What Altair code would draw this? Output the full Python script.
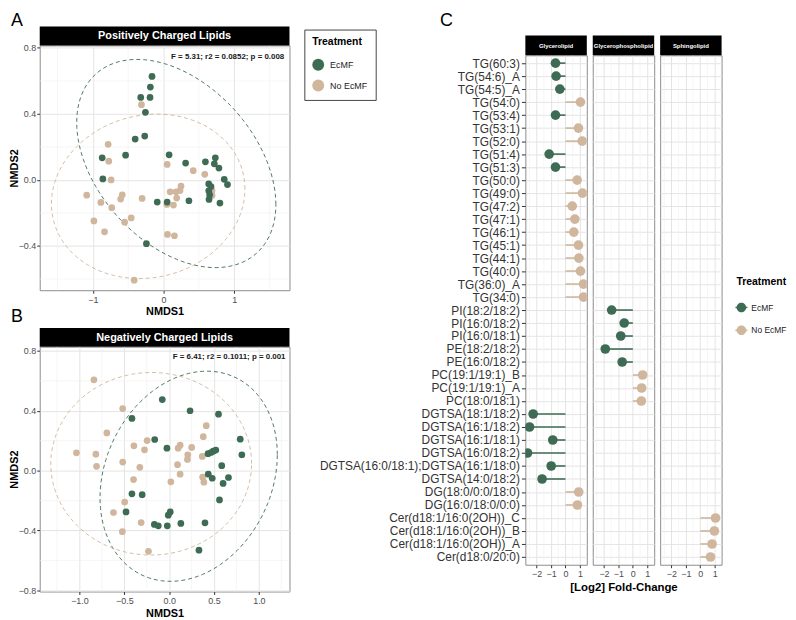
import numpy as np
import pandas as pd
import altair as alt

GREEN = "#3e6b54"
TAN = "#cfb69c"
FONT = "Liberation Sans"
TREAT = ["EcMF", "No EcMF"]
CSCALE = alt.Scale(domain=TREAT, range=[GREEN, TAN])

# ---------------- Panel A : positively charged lipids (NMDS) ----------------
a_ecmf_x = [-0.163, -0.186, -0.191, -0.322, -0.256, -0.266, -0.401, -0.867, -0.536, -0.858,
            0.079, 0.312, 0.592, 0.732, 0.718, 0.783, 0.858, 0.904, 0.639, 0.671, 0.639,
            0.652, 0.643, 0.797, 0.359, 0.051, -0.089, -0.242]
a_ecmf_y = [0.627, 0.563, 0.500, 0.500, 0.410, 0.266, 0.248, 0.134, 0.150, 0.006,
            0.152, 0.102, 0.110, 0.134, 0.098, 0.072, 0.004, -0.028, -0.024, -0.040, -0.066,
            -0.090, -0.118, -0.140, -0.126, -0.134, -0.134, -0.386]
a_no_x = [-0.312, -0.783, -0.774, -0.741, -1.086, -0.886, -0.732, -0.583, -0.606, -0.303,
          -0.984, -0.834, -0.550, -0.457, -0.415, 0.051, 0.420, 0.583, 0.093, 0.177,
          0.247, 0.233, 0.186, 0.140, 0.047, 0.056, 0.154, 0.685, 0.685]
a_no_y = [0.456, 0.216, 0.114, 0.000, -0.092, -0.136, -0.168, -0.090, -0.116, -0.112,
          -0.248, -0.314, -0.256, -0.230, -0.607, 0.094, 0.056, 0.034, -0.072, -0.072,
          -0.038, -0.064, -0.110, -0.152, -0.148, -0.330, -0.338, -0.064, -0.094]
a_stat = "F = 5.31; r2 = 0.0852; p = 0.008"
a_xmajor, a_xminor = [-1, 0, 1], [-1.5, -0.5, 0.5, 1.5]
a_ymajor, a_yminor = [-0.4, 0.0, 0.4, 0.8], [-0.6, -0.2, 0.2, 0.6]

# ---------------- Panel B : negatively charged lipids (NMDS) ----------------
b_ecmf_x = [-0.077, 0.233, 0.550, -0.415, -0.161, -0.025, 0.792, 0.810, 0.433, 0.466,
            0.491, 0.520, 0.586, 0.436, 0.480, 0.661, 0.601, 0.561, -0.415, -0.301,
            -0.481, 0.012, -0.010, -0.165, -0.121, -0.021, 0.130, 0.399, 0.332]
b_ecmf_y = [0.475, 0.400, 0.377, 0.349, 0.208, 0.150, 0.210, 0.106, 0.113, 0.121,
            0.130, 0.137, 0.033, -0.024, -0.051, -0.046, -0.086, -0.196, -0.155, -0.161,
            -0.276, -0.276, -0.298, -0.360, -0.369, -0.369, -0.353, -0.349, -0.532]
b_no_x = [-0.839, -0.518, -0.695, -1.034, -0.817, -0.810, -0.393, -0.275, -0.246, -0.518,
          -0.327, -0.397, -0.496, -0.621, -0.522, -0.312, -0.231, 0.100, 0.122, 0.251,
          0.207, 0.204, 0.093, 0.122, 0.019, 0.380, 0.413, 0.369, 0.373, 0.387]
b_no_y = [0.607, 0.415, 0.252, 0.119, 0.110, 0.029, 0.166, 0.139, 0.201, 0.057,
          0.022, -0.060, -0.210, -0.280, -0.408, -0.347, -0.539, 0.150, 0.170, 0.155,
          0.106, 0.075, 0.040, -0.024, -0.075, 0.227, 0.300, 0.095, -0.044, -0.077]
b_stat = "F = 6.41; r2 = 0.1011; p = 0.001"
b_xmajor, b_xminor = [-1.0, -0.5, 0.0, 0.5, 1.0], [-1.25, -0.75, -0.25, 0.25, 0.75, 1.25]
b_ymajor, b_yminor = [-0.8, -0.4, 0.0, 0.4, 0.8], [-0.6, -0.2, 0.2, 0.6]

# ---------------- Panel C : log2 fold-change lollipops ----------------
lipids = ["TG(60:3)", "TG(54:6)_A", "TG(54:5)_A", "TG(54:0)", "TG(53:4)", "TG(53:1)", "TG(52:0)",
          "TG(51:4)", "TG(51:3)", "TG(50:0)", "TG(49:0)", "TG(47:2)", "TG(47:1)", "TG(46:1)",
          "TG(45:1)", "TG(44:1)", "TG(40:0)", "TG(36:0)_A", "TG(34:0)",
          "PI(18:2/18:2)", "PI(16:0/18:2)", "PI(16:0/18:1)", "PE(18:2/18:2)", "PE(16:0/18:2)",
          "PC(19:1/19:1)_B", "PC(19:1/19:1)_A", "PC(18:0/18:1)",
          "DGTSA(18:1/18:2)", "DGTSA(16:1/18:2)", "DGTSA(16:1/18:1)", "DGTSA(16:0/18:2)",
          "DGTSA(16:0/18:1);DGTSA(16:1/18:0)", "DGTSA(14:0/18:2)",
          "DG(18:0/0:0/18:0)", "DG(16:0/18:0/0:0)",
          "Cer(d18:1/16:0(2OH))_C", "Cer(d18:1/16:0(2OH))_B", "Cer(d18:1/16:0(2OH))_A",
          "Cer(d18:0/20:0)"]
lipid_class = (["Glycerolipid"] * 19 + ["Glycerophospholipid"] * 8 +
               ["Glycerolipid"] * 8 + ["Sphingolipid"] * 4)
log2fc = [-0.69, -0.65, -0.39, 1.04, -0.69, 0.90, 1.16, -1.13, -0.69, 0.81, 1.18, 0.47, 0.65,
          0.58, 0.90, 0.93, 1.04, 1.25, 1.25,
          -1.47, -0.60, -0.84, -1.91, -0.74, 0.68, 0.61, 0.59,
          -2.24, -2.49, -0.88, -2.63, -0.99, -1.62, 0.92, 0.83,
          1.06, 0.98, 0.82, 0.71]
classes = ["Glycerolipid", "Glycerophospholipid", "Sphingolipid"]
c_xmajor, c_xminor = [-2, -1, 0, 1], [-2.5, -1.5, -0.5, 0.5]


# ---- 95% data ellipse per group (as ggplot2 stat_ellipse(type = "norm")) ----
def stat_ellipse(xs, ys, level=0.95, segments=120):
    pts = np.column_stack([xs, ys]).astype(float)
    center = pts.mean(axis=0)
    shape = np.cov(pts, rowvar=False, ddof=1)
    dfd = len(xs) - 1
    qf = (dfd / 2.0) * ((1 - level) ** (-2.0 / dfd) - 1)  # F(2, dfd) quantile
    radius = np.sqrt(2 * qf)
    ang = np.linspace(0, 2 * np.pi, segments + 1)
    circle = np.column_stack([np.cos(ang), np.sin(ang)])
    R = np.linalg.cholesky(shape).T
    ell = center + radius * (circle @ R)
    return ell[:, 0], ell[:, 1]


def pts_frame(ex, ey, nx, ny):
    return pd.DataFrame({"x": list(nx) + list(ex), "y": list(ny) + list(ey),
                         "treat": ["No EcMF"] * len(nx) + ["EcMF"] * len(ex)})


def ell_frame(ex, ey, nx, ny):
    rows = []
    for name, bx, by in (("EcMF", ex, ey), ("No EcMF", nx, ny)):
        X, Y = stat_ellipse(bx, by)
        for i, (u, v) in enumerate(zip(X, Y)):
            rows.append({"x": u, "y": v, "treat": name, "i": i})
    return pd.DataFrame(rows)


def make_axis(major, fmt, label_size, title_size, title_pad, label_pad=2, **kw):
    return alt.Axis(values=major, format=fmt, gridColor="#e4e4e4", gridWidth=1,
                    tickSize=3, tickColor="#333333", domain=False,
                    labelFont=FONT, labelFontSize=label_size, labelColor="#4d4d4d",
                    labelPadding=label_pad, titleFont=FONT, titleFontSize=title_size,
                    titleFontWeight="bold", titleColor="black", titlePadding=title_pad, **kw)


def text_layer(txt, x, y, size, color="black", weight="normal", align="left", baseline="alphabetic"):
    return alt.Chart(pd.DataFrame({"t": [txt]})).mark_text(
        align=align, baseline=baseline, font=FONT, fontSize=size, fontWeight=weight,
        color=color).encode(text="t:N", x=alt.value(x), y=alt.value(y))


def header_layers(text, W, H, size):
    rect = alt.Chart(pd.DataFrame({"t": [text]})).mark_rect(color="black").encode(
        x=alt.value(0), x2=alt.value(W), y=alt.value(-H), y2=alt.value(0))
    txt = text_layer(text, W / 2, -H / 2 + 0.5, size, color="white", weight="bold",
                     align="center", baseline="middle")
    return [rect, txt]


W_AB, H_AB = 252, 247


def scatter_panel(pts, ell, title, stat, sx, sy, xdom, ydom, xmaj, xmin, ymaj, ymin, xfmt, yfmt,
                  letter, letter_y):
    xs = alt.Scale(domain=xdom, nice=False, zero=False)
    ys = alt.Scale(domain=ydom, nice=False, zero=False)
    xax = make_axis(xmaj, xfmt, 9, 11, 2)
    yax = make_axis(ymaj, yfmt, 9, 11, 1, label_pad=1, titleX=-20)
    X = lambda f: alt.X(f, scale=xs, axis=xax, title="NMDS1")
    Y = lambda f: alt.Y(f, scale=ys, axis=yax, title="NMDS2")
    col = alt.Color("treat:N", scale=CSCALE, legend=None)
    gx = alt.Chart(pd.DataFrame({"v": xmin})).mark_rule(color="#efefef", strokeWidth=0.6).encode(
        x=X("v:Q"))
    gy = alt.Chart(pd.DataFrame({"v": ymin})).mark_rule(color="#efefef", strokeWidth=0.6).encode(
        y=Y("v:Q"))
    e = alt.Chart(ell).mark_line(strokeDash=[4, 3], strokeWidth=0.9, clip=True).encode(
        x=X("x:Q"), y=Y("y:Q"), order="i:Q", color=col)
    p = alt.Chart(pts).mark_circle(size=46, opacity=1).encode(x=X("x:Q"), y=Y("y:Q"), color=col)
    t = alt.Chart(pd.DataFrame({"t": [stat], "x": [sx], "y": [sy]})).mark_text(
        align="right", baseline="middle", font=FONT, fontSize=8, fontWeight="bold",
        color="#1a1a1a").encode(x=X("x:Q"), y=Y("y:Q"), text="t:N")
    layers = [gx, gy, e, p, t] + header_layers(title, W_AB, 19, 11)
    layers.append(text_layer(letter, -29, letter_y, 18))
    return alt.layer(*layers).properties(width=W_AB, height=H_AB)


ptsA = pts_frame(a_ecmf_x, a_ecmf_y, a_no_x, a_no_y)
ellA = ell_frame(a_ecmf_x, a_ecmf_y, a_no_x, a_no_y)
ptsB = pts_frame(b_ecmf_x, b_ecmf_y, b_no_x, b_no_y)
ellB = ell_frame(b_ecmf_x, b_ecmf_y, b_no_x, b_no_y)

plotA = scatter_panel(ptsA, ellA, "Positively Charged Lipids", a_stat, 1.706, 0.747,
                      [-1.75, 1.78], [-0.668, 0.815], a_xmajor, a_xminor, a_ymajor, a_yminor,
                      "d", ".1f", "A", -20)
plotB = scatter_panel(ptsB, ellB, "Negatively Charged Lipids", b_stat, 1.297, 0.762,
                      [-1.443, 1.341], [-0.808, 0.828], b_xmajor, b_xminor, b_ymajor, b_yminor,
                      ".1f", ".1f", "B", -25)
left = alt.vconcat(plotA, plotB, spacing=57, bounds="flush")

# ---------------- C panels ----------------
lip = pd.DataFrame({"lipid": lipids, "cls": lipid_class, "fc": log2fc})
lip["treat"] = np.where(lip["fc"] < 0, "EcMF", "No EcMF")

W_C, H_C = 62, 514
LOLLI = ("M -1.25 -0.17 L 1.25 -0.17 L 1.25 0.17 L -1.25 0.17 Z "
         "M 1 0 A 1 1 0 1 1 -1 0 A 1 1 0 1 1 1 0 Z")


def c_panel(cls, idx):
    d = lip[lip["cls"] == cls]
    xs = alt.Scale(domain=[-2.78, 1.48], nice=False, zero=False)
    xax = make_axis(c_xmajor, "d", 9, 11.5, 3)
    ys = alt.Scale(type="point", domain=lipids, padding=0.6)
    if idx == 0:
        yax = alt.Axis(labelFont=FONT, labelFontSize=12, labelColor="#333333", labelLimit=400,
                       tickSize=4, tickColor="#333333", labelPadding=2, domain=False,
                       grid=True, gridColor="#e4e4e4", gridWidth=1)
    else:
        yax = alt.Axis(labels=False, ticks=False, domain=False, grid=True,
                       gridColor="#e4e4e4", gridWidth=1)
    xtitle = "[Log2] Fold-Change" if idx == 1 else None
    X = lambda f: alt.X(f, scale=xs, axis=xax, title=xtitle)
    Y = alt.Y("lipid:N", sort=lipids, scale=ys, axis=yax, title=None)
    if idx == 0:
        leg = alt.Legend(orient="none", legendX=-223, legendY=-26, title="Treatment",
                         titleFont=FONT, titleFontSize=10.5, titleFontWeight="bold",
                         titleColor="black", labelFont=FONT, labelFontSize=9,
                         labelColor="#222222", symbolType="circle", symbolSize=144,
                         symbolStrokeWidth=0, strokeColor="#444444", padding=8,
                         rowPadding=9, titlePadding=11, labelOffset=6)
    elif idx == 2:
        leg = alt.Legend(orient="none", legendX=77, legendY=224, title="Treatment",
                         titleFont=FONT, titleFontSize=10.5, titleFontWeight="bold",
                         titleColor="black", labelFont=FONT, labelFontSize=8.5,
                         labelColor="#222222", symbolType=LOLLI, symbolSize=92,
                         symbolStrokeWidth=0, rowPadding=13, titlePadding=15, labelOffset=5)
    else:
        leg = None
    gx = alt.Chart(pd.DataFrame({"v": c_xminor})).mark_rule(
        color="#efefef", strokeWidth=0.6).encode(x=X("v:Q"))
    base = alt.Chart(d).transform_calculate(zero="0")
    rule = base.mark_rule(strokeWidth=1.6).encode(
        x=X("zero:Q"), x2="fc:Q", y=Y,
        color=alt.condition(alt.datum.treat == "EcMF", alt.value(GREEN), alt.value(TAN)))
    pt = base.mark_circle(size=95, opacity=1, clip=True).encode(
        x=X("fc:Q"), y=Y, color=alt.Color("treat:N", scale=CSCALE, legend=leg))
    layers = [gx, rule, pt] + header_layers(cls, W_C, 20, 6)
    return alt.layer(*layers).properties(width=W_C, height=H_C)


cgroup = alt.hconcat(*[c_panel(c, i) for i, c in enumerate(classes)], spacing=6,
                     bounds="flush").resolve_scale(color="independent")
spacer = text_layer("C", -86, -20, 18).properties(
    width=1, height=1, view=alt.ViewBackground(stroke="transparent"))
right = alt.vconcat(spacer, cgroup, spacing=9, bounds="flush").resolve_scale(color="independent")

chart = alt.hconcat(left, right, spacing=13).resolve_scale(color="independent").properties(
    padding=0).configure_view(stroke="#8c8c8c", strokeWidth=1)

chart.save("out.html", embed_options={"renderer": "svg", "actions": False})
